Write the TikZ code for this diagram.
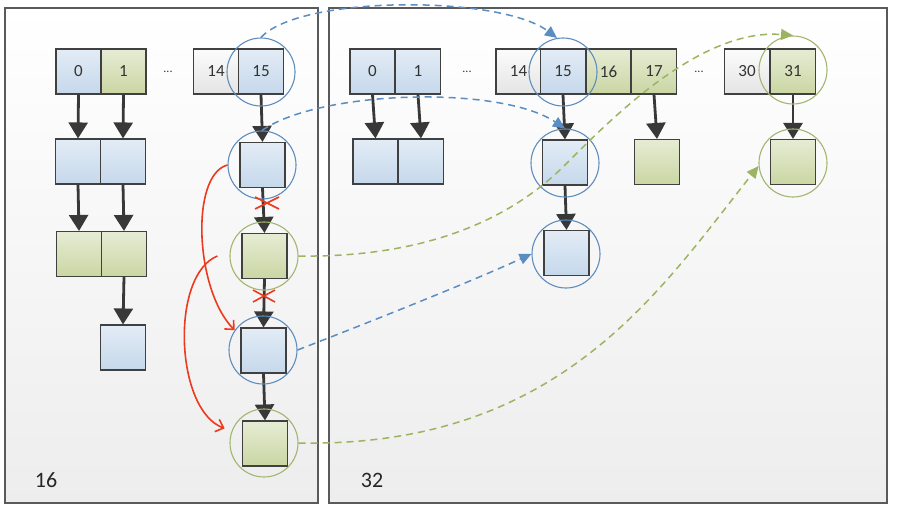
\documentclass[tikz,border=0pt]{standalone}
\usepackage{fontspec}
\setmainfont{Carlito}
\usetikzlibrary{arrows.meta,calc}
\definecolor{edgec}{HTML}{404040}
\definecolor{txtc}{HTML}{333333}
\definecolor{blA}{HTML}{E3ECF6}
\definecolor{blB}{HTML}{C5D8EB}
\definecolor{grA}{HTML}{E6ECD4}
\definecolor{grB}{HTML}{CAD6A3}
\definecolor{whA}{HTML}{FCFCFC}
\definecolor{whB}{HTML}{E4E4E4}
\definecolor{ringblue}{HTML}{5E8DBE}
\definecolor{ringgreen}{HTML}{A2B66F}
\definecolor{dblue}{HTML}{5A8DC2}
\definecolor{dgreen}{HTML}{9CB460}
\definecolor{redc}{HTML}{EC3A1F}
\definecolor{arrc}{HTML}{383838}
\definecolor{panelc}{HTML}{5A5A5A}
\begin{document}
\begin{tikzpicture}[x=1pt,y=-1pt,
  panel/.style={draw=panelc,line width=1.2pt,top color=white,bottom color=black!7},
  cell/.style={draw=edgec,line width=1.1pt,minimum width=45pt,minimum height=45pt,inner sep=0pt,
    text=txtc,font=\fontsize{17}{17}\selectfont},
  cellb/.style={cell,top color=blA,bottom color=blB},
  cellg/.style={cell,top color=grA,bottom color=grB},
  cellw/.style={cell,top color=whA,bottom color=whB},
  ring/.style={circle,line width=1.1pt,minimum size=68pt,inner sep=0pt},
  ringb/.style={ring,draw=ringblue},
  ringg/.style={ring,draw=ringgreen},
  blk/.style={draw=arrc,line width=2.8pt,-{Triangle[length=16pt,width=19pt]}},
  dsh/.style={dashed,dash pattern=on 7pt off 5pt,line width=1.5pt,-{Triangle[length=12pt,width=11pt]}},
  redarrow/.style={draw=redc,line width=1.6pt,-{Straight Barb[length=7pt,width=13pt]}},
  redx/.style={draw=redc,line width=1.6pt},
  dots/.style={text=txtc,font=\fontsize{12}{12}\selectfont},
  lbl/.style={text=black!85,font=\fontsize{22}{22}\selectfont}]
\useasboundingbox (0,0) rectangle (898,509);
\fill[white] (0,0) rectangle (898,509);
% panels
\draw[panel] (5,8) rectangle (318,503);
\draw[panel] (329,8) rectangle (887,503);
\node[lbl] (t16) at (46,480) {16};
\node[lbl] (t32) at (372,480) {32};
% left panel cells
\node[cellb] (L0) at (78.5,71.5) {0};
\node[cellg] (L1) at (123.5,71.5) {1};
\node[dots] (Ld1) at (168,72) {...};
\node[cellw] (L14) at (216,71.5) {14};
\node[cellb] (L15) at (261,71.5) {15};
\node[cellb] (L0a) at (78,161.5) {};
\node[cellb] (L1a) at (123,161.5) {};
\node[cellg] (L0b) at (79,254) {};
\node[cellg] (L1b) at (124,254) {};
\node[cellb] (L1c) at (123,347.5) {};
\node[cellb] (La) at (262.5,165) {};
\node[cellg] (Lb) at (264.5,256) {};
\node[cellb] (Lc) at (263.5,350.5) {};
\node[cellg] (Ld) at (265,443.5) {};
% right panel cells
\node[cellb] (R0) at (372.5,71.5) {0};
\node[cellb] (R1) at (418,71.5) {1};
\node[dots] (Rd1) at (467,72) {...};
\node[cellw] (R14) at (518.5,71.5) {14};
\node[cellb] (R15) at (563,71.5) {15};
\node[cellg] (R16) at (608.5,71.5) {16};
\node[cellg] (R17) at (654,71.5) {17};
\node[dots] (Rd2) at (699,72) {...};
\node[cellw] (R30) at (747,71.5) {30};
\node[cellg] (R31) at (793,71.5) {31};
\node[cellb] (R0a) at (375.5,161.5) {};
\node[cellb] (R1a) at (421,161.5) {};
\node[cellb] (R15a) at (565,162.5) {};
\node[cellg] (R17a) at (657,162) {};
\node[cellg] (R31a) at (793,162) {};
\node[cellb] (R15b) at (566.5,253) {};
% black arrows
\draw[blk] (L0.south) -- (L0a.north);
\draw[blk] (L1.south) -- (L1a.north);
\draw[blk] (L0a.south) -- (L0b.north);
\draw[blk] (L1a.south) -- (L1b.north);
\draw[blk] (L1b.south) -- (L1c.north);
\draw[blk] (L15.south) -- (La.north);
\draw[blk] (La.south) -- (Lb.north);
\draw[blk] (Lb.south) -- (Lc.north);
\draw[blk] (Lc.south) -- (Ld.north);
\draw[blk] (R0.south) -- (R0a.north);
\draw[blk] (R1.south) -- (R1a.north);
\draw[blk] (R15.south) -- (R15a.north);
\draw[blk] (R17.south) -- (R17a.north);
\draw[blk] (R31.south) -- (R31a.north);
\draw[blk] (R15a.south) -- (R15b.north);
% rings
\node[ringb] (CL15) at (261,72) {};
\node[ringb] (CLa) at (262,165) {};
\node[ringg] (CLb) at (264,256) {};
\node[ringb] (CLc) at (263,350) {};
\node[ringg] (CLd) at (264,443) {};
\node[ringb] (CR15) at (563,72) {};
\node[ringb] (CR15a) at (565,163) {};
\node[ringb] (CR15b) at (566,254) {};
\node[ringg] (CR31) at (793,70) {};
\node[ringg] (CR31a) at (793,163) {};
% dashed moves
\draw[dsh,dblue] (CL15.north) .. controls (300,-5) and (500,-5) .. (CR15.100);
\draw[dsh,dblue] (CLa.north) .. controls (320,90) and (500,85) .. (CR15a.north);
\draw[dsh,dgreen] (CLb.east) .. controls (440,258) and (520,210) .. (565,165)
   .. controls (610,120) and (700,28) .. (CR31.north);
\draw[dsh,dblue] (CLc.east) .. controls (380,318) and (470,282) .. (CR15b.west);
\draw[dsh,dgreen] (CLd.east) .. controls (560,448) and (660,290) .. (CR31a.185);
% red hand-drawn arrows
\draw[redarrow] (CLa.west) .. controls (190,175) and (195,290) .. (CLc.145);
\draw[redarrow] ([xshift=-12pt]CLb.west) .. controls (170,275) and (175,410) .. ([xshift=-8pt]CLd.155);
% red crosses
\coordinate (X1) at (267,203);
\coordinate (X2) at (264,296);
\draw[redx] ([shift={(-12,-6)}]X1) -- ([shift={(12,6)}]X1);
\draw[redx] ([shift={(-12,6)}]X1) -- ([shift={(12,-6)}]X1);
\draw[redx] ([shift={(-11,-6)}]X2) -- ([shift={(11,6)}]X2);
\draw[redx] ([shift={(-11,6)}]X2) -- ([shift={(11,-6)}]X2);
\end{tikzpicture}
\end{document}
